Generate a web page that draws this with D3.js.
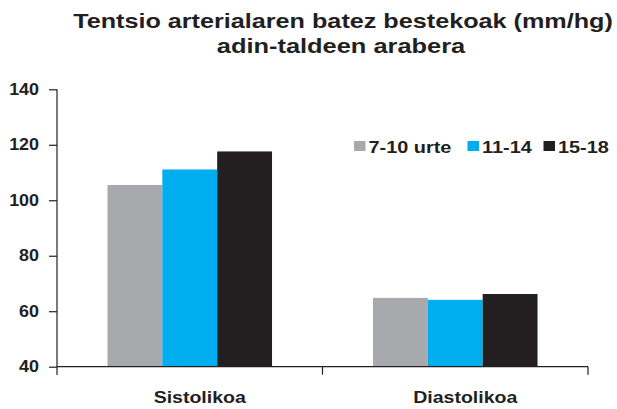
<!DOCTYPE html>
<html>
  <head>
    <meta charset="utf-8">
    <title>Tentsio arteriala</title>
    <script src="https://cdn.jsdelivr.net/npm/d3@7/dist/d3.min.js"></script>
<style>
body { margin: 0; background: #fff; }
svg { display: block; font-family: "Liberation Sans", Arial, sans-serif; }
text { font-weight: bold; fill: #231f20; }
.title { font-size: 20px; }
.axis path, .axis line { stroke: #231f20; stroke-width: 1.2; }
.axis text { font-size: 16px; }
.legend text { font-size: 17px; }
</style>
  </head>
  <body>
    <svg></svg>
    <script>
      var width = 617;
      var height = 409;

      var categories = ["Sistolikoa", "Diastolikoa"];
      var groups = ["7-10 urte", "11-14", "15-18"];
      var colors = ["#a7a9ac", "#00aeef", "#231f20"];
      var sistolikoa = [105.5, 111.1, 117.6];
      var diastolikoa = [64.8, 64.1, 66.2];
      var yTicks = [40, 60, 80, 100, 120, 140];

      var values = [sistolikoa, diastolikoa];

      var svg = d3.select("svg").attr("width", width).attr("height", height);

      var x = d3.scaleBand().domain(categories).range([57, 588]);
      var xInner = d3.scaleBand().domain(groups).range([0, x.bandwidth()]).paddingInner(0).paddingOuter(0.92);
      var y = d3.scaleLinear().domain([40, 140]).range([366.7, 89.3]);

      // the original type is set wide, so stretch text horizontally
      function wideText(sel, tx, ty, sx, anchor, str){
        return sel.append("text")
          .attr("transform", "translate(" + tx + "," + ty + ") scale(" + sx + ",1)")
          .attr("text-anchor", anchor)
          .text(str);
      }

      wideText(svg, 343, 28, 1.26, "middle", "Tentsio arterialaren batez bestekoak (mm/hg)").attr("class", "title");
      wideText(svg, 341, 53, 1.27, "middle", "adin-taldeen arabera").attr("class", "title");

      // bars
      var g = svg.selectAll("g.cat").data(categories)
        .enter().append("g")
          .attr("class", "cat")
          .attr("transform", function(d){ return "translate(" + x(d) + ",0)"; });

      g.selectAll("rect")
        .data(function(d, i){ return values[i].map(function(v, j){ return {g: groups[j], v: v, c: colors[j]}; }); })
        .enter().append("rect")
          .attr("x", function(d){ return xInner(d.g); })
          .attr("width", xInner.bandwidth())
          .attr("y", function(d){ return y(d.v); })
          .attr("height", function(d){ return y(40) - y(d.v); })
          .attr("fill", function(d){ return d.c; });

      // y axis
      var yAxis = svg.append("g").attr("class", "axis")
        .attr("transform", "translate(57,0)")
        .call(d3.axisLeft(y).tickValues(yTicks).tickSize(8).tickSizeOuter(0).tickPadding(10));
      yAxis.select(".domain").remove();
      yAxis.append("line").attr("x1", 0).attr("x2", 0).attr("y1", y(140)).attr("y2", 375);
      yAxis.selectAll(".tick text")
        .attr("x", null).attr("dy", null)
        .attr("transform", "translate(-18,5) scale(1.12,1)");

      // x axis
      var xAxis = svg.append("g").attr("class", "axis")
        .attr("transform", "translate(0," + y(40) + ")");
      xAxis.append("line").attr("x1", 57).attr("x2", 588).attr("y1", 0).attr("y2", 0);
      xAxis.selectAll("line.tick").data(categories.slice(1).map(function(d){ return x(d); }).concat([x.range()[1]]))
        .enter().append("line")
          .attr("class", "tick")
          .attr("x1", function(d){ return d; }).attr("x2", function(d){ return d; })
          .attr("y1", 0).attr("y2", 8);
      categories.forEach(function(c){
        wideText(xAxis, x(c) + x.bandwidth() / 2 + 10, 36.5, 1.15, "middle", c).style("font-size", "17px");
      });

      // legend
      var legendX = [354, 467.5, 543.5];
      var legend = svg.append("g").attr("class", "legend");
      groups.forEach(function(d, i){
        var item = legend.append("g").attr("transform", "translate(" + legendX[i] + ",141)");
        item.append("rect").attr("width", 11.5).attr("height", 10).attr("fill", colors[i]);
        wideText(item, 14.5, 12.3, 1.17, "start", d);
      });
    </script>
  </body>
</html>
